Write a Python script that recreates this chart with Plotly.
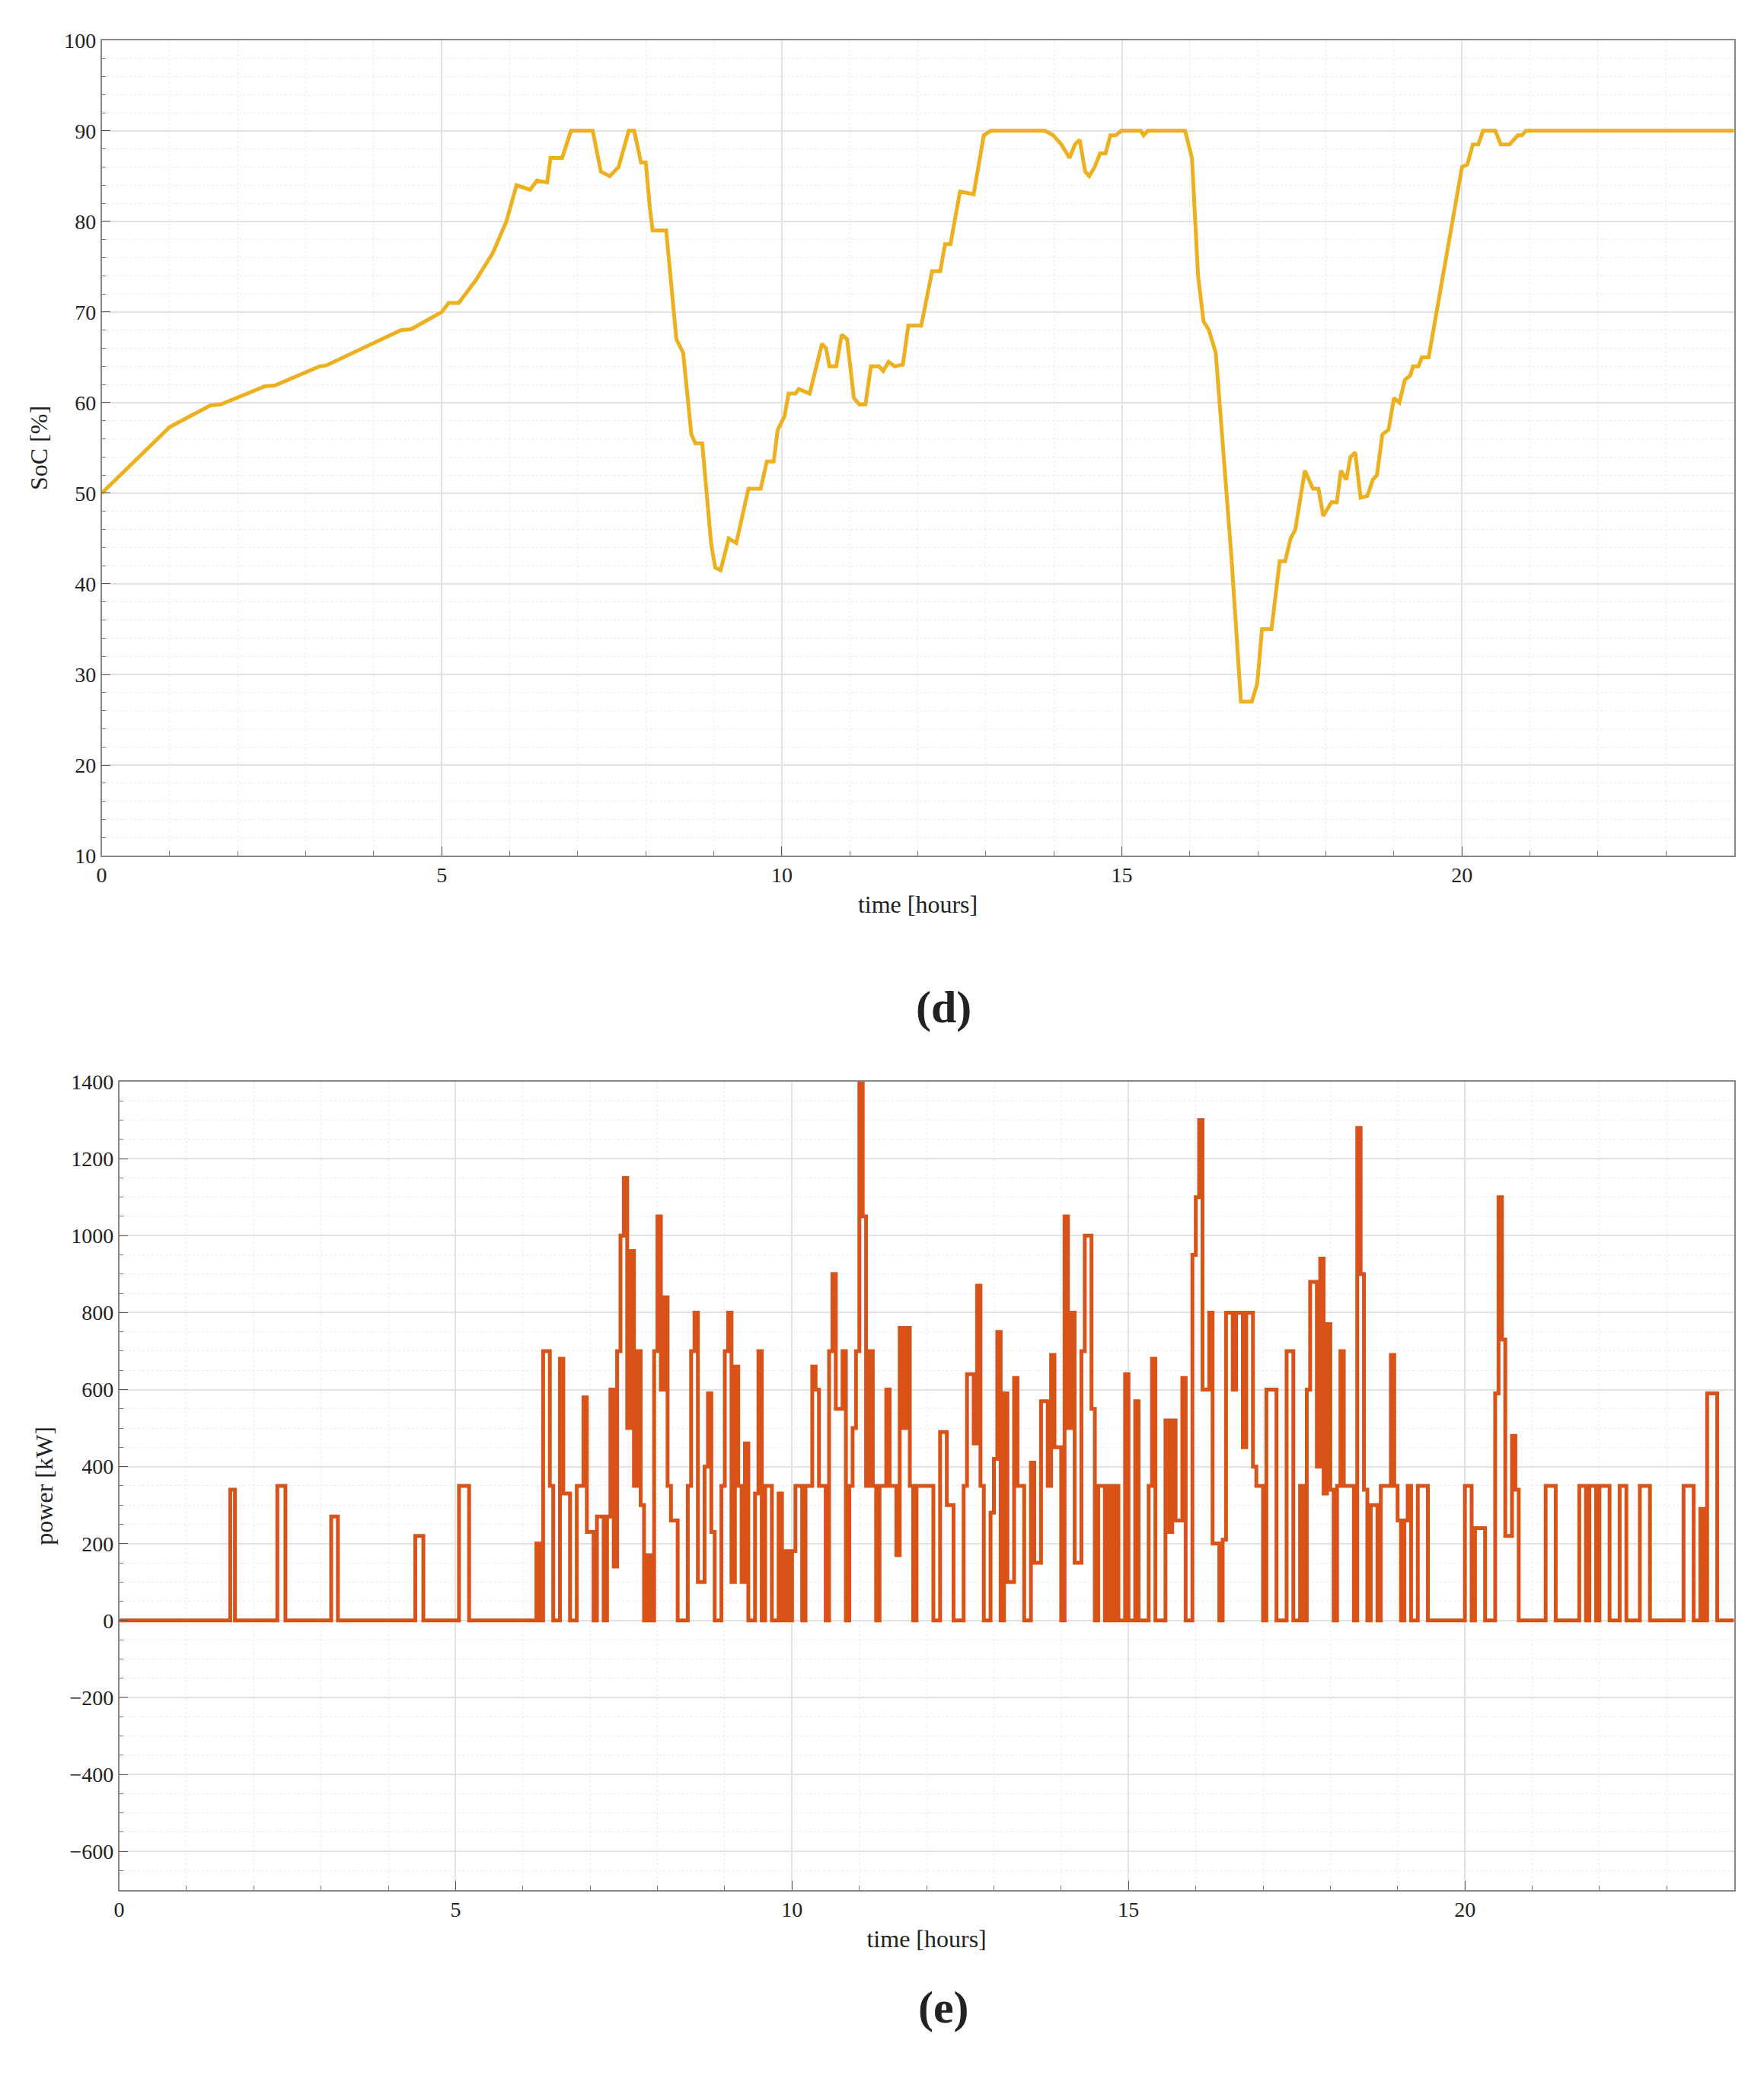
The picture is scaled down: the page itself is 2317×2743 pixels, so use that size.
import plotly.graph_objects as go

soc_t = [0,1.0,1.3,1.6,1.75,2.4,2.55,3.2,3.3,4.4,4.55,5.0,5.1,5.25,5.5,5.75,5.95,6.1,6.3,6.4,6.55,6.6,6.77,6.9,7.22,7.34,7.47,7.6,7.75,7.83,7.93,8.0,8.06,8.1,8.3,8.45,8.55,8.67,8.73,8.83,8.96,9.02,9.1,9.22,9.33,9.51,9.69,9.78,9.88,9.94,10.04,10.1,10.2,10.25,10.41,10.59,10.65,10.7,10.8,10.88,10.96,11.06,11.14,11.23,11.31,11.43,11.49,11.57,11.66,11.78,11.86,12.05,12.21,12.33,12.4,12.48,12.62,12.82,12.97,13.07,13.87,13.99,14.11,14.23,14.31,14.38,14.46,14.52,14.6,14.68,14.76,14.83,14.91,14.99,15.28,15.32,15.38,15.93,16.03,16.12,16.2,16.28,16.38,16.54,16.61,16.75,16.91,16.99,17.06,17.2,17.32,17.4,17.48,17.55,17.65,17.69,17.81,17.89,17.96,18.08,18.16,18.22,18.3,18.36,18.43,18.51,18.61,18.69,18.75,18.83,18.92,19.0,19.08,19.16,19.24,19.28,19.36,19.41,19.51,20.0,20.08,20.16,20.24,20.31,20.49,20.57,20.7,20.82,20.88,20.94,24.0]
soc_v = [50,57.3,58.5,59.7,59.8,61.8,61.9,64,64.1,68,68.1,70,71,71,73.5,76.5,80,84,83.5,84.5,84.3,87,87,90,90,85.5,85,86,90,90,86.5,86.5,81.5,79,79,67,65.5,56.5,55.5,55.5,44.5,41.8,41.5,45,44.5,50.5,50.5,53.5,53.5,57,58.5,61,61,61.5,61,66.5,66,64,64,67.5,67,60.5,59.8,59.8,64,64,63.5,64.5,64,64.2,68.5,68.5,74.5,74.5,77.5,77.5,83.3,83,89.5,90,90,89.5,88.5,87,88.5,89,85.5,85,86,87.5,87.5,89.5,89.5,90,90,89.5,90,90,87,74,69,68,65.5,49,43,27,27,29,35,35,42.5,42.5,45,46,51,52.5,50.5,50.5,47.5,49,49,52.5,51.5,54,54.5,49.5,49.7,51.5,52,56.5,57,60.5,60,62.5,63,64,64,65,65,86,86.3,88.5,88.5,90,90,88.5,88.5,89.5,89.5,90,90]

pw_t = [0,1.65,1.72,2.35,2.47,3.15,3.25,4.4,4.52,5.05,5.2,6.2,6.25,6.3,6.4,6.45,6.55,6.6,6.7,6.8,6.9,6.95,7.05,7.1,7.2,7.25,7.3,7.35,7.4,7.45,7.5,7.55,7.6,7.65,7.7,7.75,7.8,7.85,7.9,7.95,8.0,8.05,8.1,8.15,8.2,8.3,8.45,8.5,8.55,8.6,8.7,8.75,8.8,8.85,8.95,9.0,9.05,9.1,9.15,9.2,9.25,9.3,9.35,9.45,9.5,9.55,9.6,9.7,9.8,9.85,9.9,9.95,10.0,10.05,10.15,10.2,10.3,10.35,10.4,10.5,10.55,10.6,10.65,10.75,10.8,10.85,10.9,10.95,11.0,11.05,11.1,11.15,11.2,11.25,11.3,11.4,11.45,11.55,11.6,11.65,11.7,11.75,11.8,11.85,12.0,12.1,12.2,12.3,12.4,12.55,12.6,12.7,12.75,12.8,12.85,12.95,13.0,13.05,13.1,13.15,13.2,13.3,13.35,13.45,13.55,13.6,13.7,13.8,13.85,13.9,14.0,14.05,14.1,14.15,14.2,14.3,14.35,14.45,14.5,14.55,14.65,14.7,14.75,14.8,14.85,14.95,15.0,15.1,15.15,15.3,15.35,15.4,15.55,15.6,15.65,15.7,15.8,15.85,15.95,16.0,16.05,16.1,16.2,16.25,16.35,16.4,16.45,16.55,16.6,16.7,16.75,16.85,16.9,17.0,17.05,17.2,17.35,17.45,17.55,17.6,17.65,17.7,17.8,17.85,17.9,17.95,18.0,18.05,18.1,18.15,18.2,18.35,18.4,18.45,18.5,18.55,18.6,18.7,18.75,18.85,18.9,18.95,19.0,19.05,19.1,19.15,19.2,19.3,19.45,20.0,20.1,20.15,20.3,20.45,20.5,20.55,20.6,20.7,20.75,20.8,21.2,21.35,21.7,21.8,21.85,21.95,22.0,22.15,22.3,22.4,22.6,22.75,23.25,23.4,23.5,23.55,23.6,23.75,24.0]
pw_v = [0,340,0,350,0,270,0,220,0,350,0,200,0,700,350,0,680,330,0,350,580,230,0,270,0,270,600,140,700,1000,1150,500,960,350,700,300,0,170,0,700,1050,600,840,350,260,0,350,700,800,100,400,590,230,0,350,700,800,100,660,350,100,460,0,330,700,0,350,0,330,0,180,0,180,350,0,350,660,600,350,0,700,900,550,700,0,350,500,700,1400,1050,350,700,350,0,350,600,350,170,760,500,760,350,0,350,350,0,490,300,0,350,640,460,870,350,0,280,420,750,0,590,100,630,350,0,410,150,570,350,690,450,0,1050,500,800,150,700,1000,550,0,350,0,350,0,350,0,640,0,570,0,350,680,0,520,230,520,260,630,0,950,1100,1300,600,800,200,0,210,800,600,800,450,800,400,350,0,600,0,700,0,350,0,600,880,400,940,330,770,340,0,350,700,350,0,1280,900,340,0,300,0,350,350,690,350,260,0,260,350,0,350,0,350,0,240,0,590,1100,730,220,480,340,0,350,0,350,0,350,0,350,0,350,0,350,0,350,0,290,0,590,0,0]

FONT = "Liberation Serif"
TXT = "#222"
fig = go.Figure()
fig.add_trace(go.Scatter(x=soc_t, y=soc_v, mode="lines", line=dict(color="#EDB120", width=5), xaxis="x", yaxis="y", showlegend=False))
fig.add_trace(go.Scatter(x=pw_t, y=pw_v, mode="lines", line=dict(color="#D95319", width=5, shape="hv"), xaxis="x2", yaxis="y2", showlegend=False))

def ax(**kw):
    d = dict(showline=True, mirror=True, linecolor="#888", linewidth=1.5, ticks="inside", ticklen=12, tickcolor="#555",
             showgrid=True, gridcolor="#e2e2e2", gridwidth=1.5, zeroline=False,
             tickfont=dict(family=FONT, size=28, color=TXT),
             minor=dict(showgrid=True, gridcolor="#ececec", griddash="dot", gridwidth=1, ticks="inside", ticklen=6, tickcolor="#777"))
    d.update(kw)
    return d

def ttl(s):
    return dict(text=s, font=dict(family=FONT, size=32, color=TXT), standoff=12)

fig.update_layout(
    width=2317, height=2743, paper_bgcolor="white", plot_bgcolor="white",
    margin=dict(l=0, r=0, t=0, b=0),
    xaxis=ax(domain=[0.0513, 0.9795], anchor="y", range=[0, 24], dtick=5, tick0=0, minor_dtick=1, title=ttl("time [hours]")),
    yaxis=ax(domain=[0.594, 0.989], anchor="x", range=[10, 100], dtick=10, minor_dtick=2, title=ttl("SoC [%]")),
    xaxis2=ax(domain=[0.0613, 0.9795], anchor="y2", range=[0, 24], dtick=5, tick0=0, minor_dtick=1, title=ttl("time [hours]")),
    yaxis2=ax(domain=[0.093, 0.4845], anchor="x2", range=[-700, 1400], dtick=200, minor_dtick=50,
              tickformat="d", title=ttl("power [kW]")),
    annotations=[
        dict(text="<b>(d)</b>", x=0.53, y=1 - 1329 / 2743 + 0.005, xref="paper", yref="paper", showarrow=False,
             font=dict(family=FONT, size=60, color=TXT)),
        dict(text="<b>(e)</b>", x=0.53, y=1 - 2690 / 2743 + 0.004, xref="paper", yref="paper", showarrow=False,
             font=dict(family=FONT, size=60, color=TXT)),
    ],
)
fig.write_html("out.html")
